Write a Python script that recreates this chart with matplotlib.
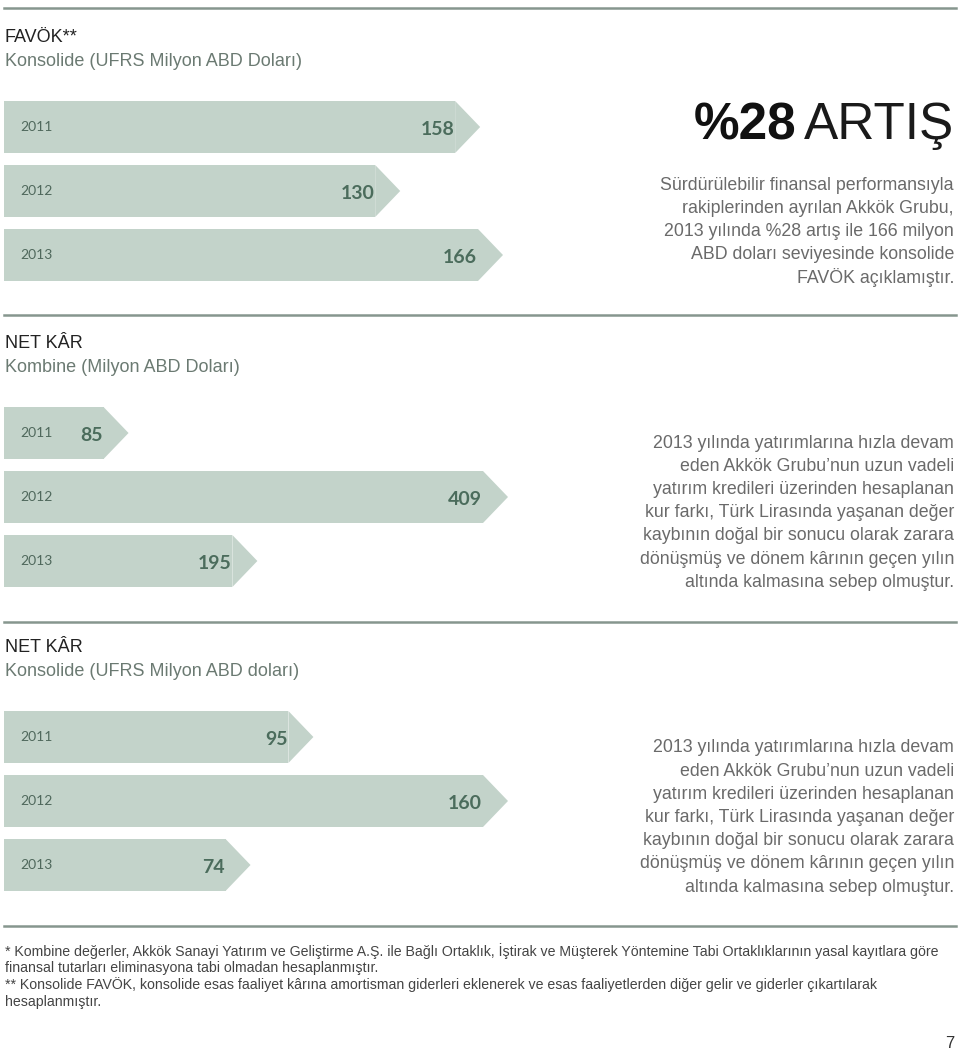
import matplotlib.pyplot as plt
from matplotlib.patches import Polygon

# data
years = ["2011", "2012", "2013"]
favok = [158, 130, 166]
net_kombine = [85, 409, 195]
net_konsolide = [95, 160, 74]

panel_titles = ["FAVÖK**", "NET KÂR", "NET KÂR"]
panel_subtitles = ["Konsolide (UFRS Milyon ABD Doları)",
                   "Kombine (Milyon ABD Doları)",
                   "Konsolide (UFRS Milyon ABD doları)"]

favok_head = ["%28", "ARTIŞ"]
favok_note = ["Sürdürülebilir finansal performansıyla",
              "rakiplerinden ayrılan Akkök Grubu,",
              "2013 yılında %28 artış ile 166 milyon",
              "ABD doları seviyesinde konsolide",
              "FAVÖK açıklamıştır."]
net_note = ["2013 yılında yatırımlarına hızla devam",
            "eden Akkök Grubu\u2019nun uzun vadeli",
            "yatırım kredileri üzerinden hesaplanan",
            "kur farkı, Türk Lirasında yaşanan değer",
            "kaybının doğal bir sonucu olarak zarara",
            "dönüşmüş ve dönem kârının geçen yılın",
            "altında kalmasına sebep olmuştur."]
footnotes = ["* Kombine değerler, Akkök Sanayi Yatırım ve Geliştirme A.Ş. ile Bağlı Ortaklık, "
             "İştirak ve Müşterek Yöntemine Tabi Ortaklıklarının yasal kayıtlara göre",
             "finansal tutarları eliminasyona tabi olmadan hesaplanmıştır.",
             "** Konsolide FAVÖK, konsolide esas faaliyet kârına amortisman giderleri eklenerek "
             "ve esas faaliyetlerden diğer gelir ve giderler çıkartılarak",
             "hesaplanmıştır."]
page_no = "7"

W, H = 960, 1054
BAR = "#c3d3ca"
VAL = "#4b6c5c"
YEAR = "#4f685c"
RULE = "#86968e"
GREY = "#6a6a6a"
SANS = ["Liberation Sans", "DejaVu Sans"]
NARROW = ["Liberation Sans Narrow", "Liberation Sans", "DejaVu Sans"]
HUM = ["Lato", "Open Sans", "DejaVu Sans"]

fig = plt.figure(figsize=(W / 100, H / 100), dpi=100)
fig.patch.set_facecolor("white")


def fx(px):
    return px / W


def fy(py):
    return 1 - py / H


def rule(py):
    fig.add_artist(plt.Line2D([fx(4), fx(956)], [fy(py), fy(py)],
                              color=RULE, lw=1.8, transform=fig.transFigure))


def arrow_panel(top, values, full_px):
    # axes spans bars; body of the largest bar ends near full_px
    left, right = 4, 560
    pitch, bar_h = 64, 52
    height = 2 * pitch + bar_h
    ax = fig.add_axes([fx(left), fy(top + height), fx(right - left), height / H])
    scale = (full_px - left) / max(values)
    ax.set_xlim(0, (right - left) / scale)
    ax.set_ylim(2 + bar_h / pitch / 2, -bar_h / pitch / 2)
    ax.axis("off")
    h = bar_h / pitch
    tip = 25 / scale
    ax.barh(range(len(values)), values, height=h, color=BAR, edgecolor="none")
    for i, v in enumerate(values):
        ax.add_patch(Polygon([[v, i - h / 2], [v + tip, i], [v, i + h / 2]],
                             closed=True, color=BAR, lw=0))
        ax.text(16 / scale, i, years[i], ha="left", va="center",
                fontsize=10, color=YEAR, family=HUM)
        ax.text(v - 1 / scale, i + 0.04, str(v), ha="right", va="center",
                fontsize=14, fontweight="bold", color=VAL, family=HUM)
    return ax


def header(py, title, sub):
    fig.text(fx(5), fy(py), title, ha="left", va="center",
             fontsize=13, color="#222222", family=SANS)
    fig.text(fx(5), fy(py + 24), sub, ha="left", va="center",
             fontsize=13, color="#6b7a72", family=SANS)


def note(py, lines):
    for k, line in enumerate(lines):
        fig.text(fx(954), fy(py + k * 23.2), line, ha="right", va="center",
                 fontsize=12.8, color=GREY, family=SANS)


rule(8)
header(37, panel_titles[0], panel_subtitles[0])
arrow_panel(101, favok, 478)

artis = fig.text(fx(954), fy(126), favok_head[1], ha="right", va="center",
                 fontsize=37, color="#1a1a1a", family=NARROW)
fig.canvas.draw()
bb = artis.get_window_extent(fig.canvas.get_renderer())
fig.text(fx(bb.x0 - 7), fy(126), favok_head[0], ha="right", va="center",
         fontsize=37, color="#111111", fontweight="bold", family=NARROW)
note(185, favok_note)

rule(315)
header(343, panel_titles[1], panel_subtitles[1])
arrow_panel(407, net_kombine, 483)
note(443, net_note)

rule(622)
header(648, panel_titles[2], panel_subtitles[2])
arrow_panel(711, net_konsolide, 483)
note(748, net_note)

rule(926)
for k, line in enumerate(footnotes):
    fig.text(fx(5), fy(951 + k * 17), line, ha="left", va="center",
             fontsize=10.2, color="#444444", family=NARROW)
fig.text(fx(954), fy(1043), page_no, ha="right", va="center",
         fontsize=12, color="#333333", family=NARROW)

fig.savefig("out.png", dpi=100)
